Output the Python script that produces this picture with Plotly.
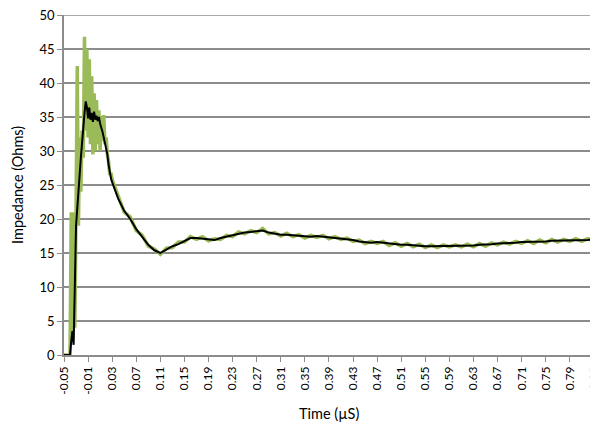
import plotly.graph_objects as go

# ---- data ----
time_early = [-0.050, -0.045, -0.040, -0.038, -0.036, -0.034, -0.032, -0.030, -0.028, -0.026,
              -0.024, -0.022, -0.020, -0.018, -0.016, -0.014, -0.012, -0.010, -0.008, -0.006,
              -0.004, -0.002, 0.000, 0.002, 0.004, 0.006, 0.008, 0.010, 0.012, 0.014,
              0.016, 0.018, 0.020, 0.022, 0.024, 0.026, 0.028]

green_early = [0, 0, 0, 21, 2, 21, 4, 21, 42.5, 19,
               32, 24, 33, 29, 46.8, 33, 45, 32, 43.5, 31,
               41, 29.5, 38.5, 30, 37.5, 31, 36, 30, 35, 31.5,
               35.3, 31, 32, 29.5, 28.5, 26.5, 26.8]

black_early = [0, 0, 0, 2.0, 3.5, 1.5, 10, 19, 21.5, 23.5,
               26.5, 29, 31.5, 34, 35.5, 37.3, 36.5, 34.8, 36.4, 34.6,
               35.6, 34.3, 35.8, 34.6, 35.2, 34.4, 35.0, 34.0, 33.5, 32.8,
               32.0, 31.3, 30.6, 29.5, 28.0, 26.8, 26.0]

time_late = [0.03, 0.04, 0.05, 0.06, 0.07, 0.08, 0.09, 0.10, 0.11, 0.12,
             0.13, 0.14, 0.15, 0.16, 0.17, 0.18, 0.19, 0.20, 0.21, 0.22,
             0.23, 0.24, 0.25, 0.26, 0.27, 0.28, 0.29, 0.30, 0.31, 0.32,
             0.33, 0.34, 0.35, 0.36, 0.37, 0.38, 0.39, 0.40, 0.41, 0.42,
             0.43, 0.44, 0.45, 0.46, 0.47, 0.48, 0.49, 0.50, 0.51, 0.52,
             0.53, 0.54, 0.55, 0.56, 0.57, 0.58, 0.59, 0.60, 0.61, 0.62,
             0.63, 0.64, 0.65, 0.66, 0.67, 0.68, 0.69, 0.70, 0.71, 0.72,
             0.73, 0.74, 0.75, 0.76, 0.77, 0.78, 0.79, 0.80, 0.81, 0.82, 0.83]

black_late = [25.4, 23.0, 21.2, 20.0, 18.5, 17.3, 16.2, 15.4, 15.0, 15.5,
              16.0, 16.3, 16.8, 17.2, 17.2, 17.1, 17.0, 16.9, 17.2, 17.4,
              17.6, 17.9, 18.0, 18.1, 18.2, 18.3, 18.0, 17.8, 17.7, 17.7,
              17.6, 17.5, 17.4, 17.4, 17.5, 17.4, 17.3, 17.2, 17.2, 17.0,
              16.9, 16.7, 16.6, 16.5, 16.6, 16.5, 16.3, 16.3, 16.2, 16.2,
              16.1, 16.1, 16.0, 16.0, 16.0, 16.0, 16.1, 16.0, 16.1, 16.1,
              16.1, 16.2, 16.2, 16.3, 16.4, 16.4, 16.5, 16.5, 16.6, 16.6,
              16.6, 16.7, 16.7, 16.8, 16.8, 16.8, 16.9, 16.9, 16.9, 16.9, 17.0]

green_late = [25.8, 23.4, 21.0, 20.3, 18.3, 17.6, 16.0, 15.6, 14.8, 15.7,
              15.8, 16.6, 16.6, 17.4, 17.0, 17.4, 16.8, 17.1, 17.0, 17.6,
              17.4, 18.1, 17.8, 18.3, 18.0, 18.6, 17.8, 18.0, 17.5, 17.9,
              17.4, 17.7, 17.2, 17.6, 17.3, 17.6, 17.1, 17.4, 17.0, 17.2,
              16.7, 16.9, 16.4, 16.7, 16.4, 16.7, 16.1, 16.5, 16.0, 16.4,
              15.9, 16.3, 15.8, 16.2, 15.8, 16.2, 15.9, 16.2, 15.9, 16.3,
              15.9, 16.4, 16.0, 16.5, 16.2, 16.6, 16.3, 16.7, 16.4, 16.8,
              16.4, 16.9, 16.5, 17.0, 16.6, 17.0, 16.7, 17.1, 16.7, 17.1, 16.8]

tick_vals = [-0.05, -0.01, 0.03, 0.07, 0.11, 0.15, 0.19, 0.23, 0.27, 0.31, 0.35, 0.39,
             0.43, 0.47, 0.51, 0.55, 0.59, 0.63, 0.67, 0.71, 0.75, 0.79, 0.83]
tick_text = ["-0.05", "-0.01", "0.03", "0.07", "0.11", "0.15", "0.19", "0.23", "0.27",
             "0.31", "0.35", "0.39", "0.43", "0.47", "0.51", "0.55", "0.59", "0.63",
             "0.67", "0.71", "0.75", "0.79", "0.83"]
y_tick_vals = [0, 5, 10, 15, 20, 25, 30, 35, 40, 45, 50]

x_title = "Time (µS)"
y_title = "Impedance (Ohms)"

time_all = time_early + time_late
green_all = green_early + green_late
black_all = black_early + black_late

GRID = "#8c8c8c"
FONT = "Lato, Open Sans, sans-serif"

fig = go.Figure()
fig.add_trace(go.Scatter(x=time_all, y=green_all, mode="lines",
                         line=dict(color="#9bbb59", width=3.5), name="Raw"))
fig.add_trace(go.Scatter(x=time_all, y=black_all, mode="lines",
                         line=dict(color="#000000", width=2), name="Smoothed"))

# the page body has an 8px margin, so the figure is sized/offset to compensate
fig.update_layout(
    width=590, height=417,
    margin=dict(l=56, r=4, t=7, b=70),
    paper_bgcolor="white", plot_bgcolor="white",
    showlegend=False,
    font=dict(family=FONT, size=12, color="#000000"),
    xaxis=dict(
        range=[-0.05, 0.8302],
        automargin=False,
        tickmode="array", tickvals=tick_vals, ticktext=tick_text,
        tickangle=-90, ticklabeloverflow="allow",
        showgrid=False, zeroline=False,
        showline=True, linecolor=GRID, linewidth=1.5,
        ticks="outside", ticklen=5, tickcolor=GRID, tickwidth=1,
        tickfont=dict(family=FONT, size=12),
    ),
    yaxis=dict(
        range=[0, 50.001],
        tickmode="array", tickvals=y_tick_vals,
        automargin=False, ticklabeloverflow="allow",
        showgrid=True, gridcolor=GRID, gridwidth=1.5,
        zeroline=False,
        showline=True, linecolor=GRID, linewidth=1.5,
        ticks="outside", ticklen=5, tickcolor=GRID, tickwidth=1,
        tickfont=dict(family=FONT, size=13),
    ),
    shapes=[
        # top gridline (plotly skips the grid line lying on the plot edge)
        dict(type="line", xref="paper", yref="y", x0=0, x1=1,
             y0=y_tick_vals[-1], y1=y_tick_vals[-1],
             line=dict(color=GRID, width=1.5), layer="below"),
    ],
    annotations=[
        dict(text=x_title, xref="paper", yref="paper", x=0.5, y=-0.1735,
             xanchor="center", yanchor="middle", showarrow=False,
             font=dict(family=FONT, size=14.5)),
        dict(text=y_title, xref="paper", yref="paper", x=-0.0887, y=0.5,
             xanchor="center", yanchor="middle", showarrow=False, textangle=-90,
             font=dict(family=FONT, size=14.5)),
    ],
)

fig.write_html("out.html")
